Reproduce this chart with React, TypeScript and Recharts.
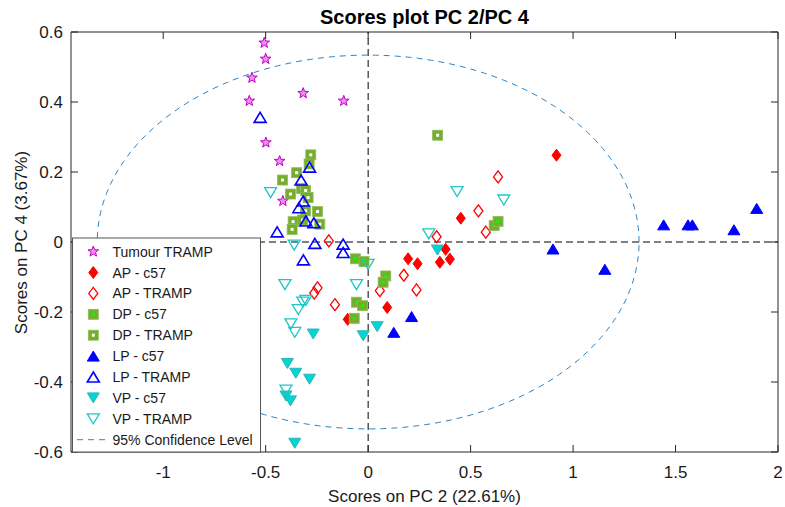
import { ScatterChart, Scatter, XAxis, YAxis, ReferenceLine } from 'recharts';

type Pt = [number, number];

// scores: [PC 2, PC 4]
const tumourTramp: Pt[] = [
  [-0.507, 0.569], [-0.5, 0.523], [-0.567, 0.469], [-0.58, 0.403], [-0.317, 0.425],
  [-0.119, 0.403], [-0.499, 0.284], [-0.432, 0.231], [-0.416, 0.117],
];
const apC57: Pt[] = [
  [0.919, 0.248], [0.452, 0.068], [0.378, -0.021], [0.35, -0.058], [0.399, -0.049],
  [0.195, -0.048], [0.241, -0.062], [0.093, -0.187], [-0.1, -0.221],
];
const apTramp: Pt[] = [
  [0.634, 0.186], [0.538, 0.089], [0.574, 0.028], [0.334, 0.015], [0.174, -0.095],
  [0.236, -0.137], [0.057, -0.139], [-0.162, -0.179], [-0.192, 0.003], [-0.247, -0.131],
  [-0.263, -0.146],
];
const dpC57: Pt[] = [
  [-0.062, -0.048], [-0.02, -0.056], [0.086, -0.097], [0.073, -0.115], [-0.057, -0.172],
  [-0.027, -0.182], [-0.068, -0.218], [0.615, 0.047], [0.634, 0.059],
];
const dpTramp: Pt[] = [
  [-0.28, 0.249], [-0.288, 0.223], [-0.349, 0.198], [-0.418, 0.177], [-0.325, 0.153],
  [-0.305, 0.147], [-0.379, 0.137], [-0.293, 0.127], [-0.305, 0.089], [-0.247, 0.087],
  [-0.366, 0.058], [-0.32, 0.063], [-0.236, 0.051], [-0.371, 0.036], [0.339, 0.305],
];
const lpC57: Pt[] = [
  [0.902, -0.02], [1.155, -0.078], [1.442, 0.049], [1.561, 0.049], [1.582, 0.049],
  [1.785, 0.035], [1.896, 0.096], [0.212, -0.213], [0.125, -0.258],
];
const lpTramp: Pt[] = [
  [-0.527, 0.356], [-0.286, 0.214], [-0.327, 0.177], [-0.317, 0.117], [-0.338, 0.098],
  [-0.304, 0.06], [-0.265, 0.055], [-0.444, 0.029], [-0.26, -0.004], [-0.316, -0.051],
  [-0.122, -0.006], [-0.122, -0.03],
];
const vpC57: Pt[] = [
  [0.338, -0.023], [0.044, -0.242], [-0.024, -0.268], [-0.268, -0.263], [-0.394, -0.347],
  [-0.353, -0.375], [-0.286, -0.392], [-0.401, -0.44], [-0.379, -0.454], [-0.358, -0.575],
];
const vpTramp: Pt[] = [
  [0.434, 0.144], [0.662, 0.12], [0.296, 0.023], [0.0, -0.064], [-0.057, -0.122],
  [-0.476, 0.141], [-0.361, -0.009], [-0.406, -0.122], [-0.304, -0.167], [-0.319, -0.172],
  [-0.341, -0.193], [-0.377, -0.234], [-0.358, -0.258], [-0.401, -0.423],
];

// 95% confidence ellipse (centred at the origin)
const ELLIPSE_RX = 1.322;
const ELLIPSE_RY = 0.534;

const X_TICKS = [-1, -0.5, 0, 0.5, 1, 1.5, 2];
const Y_TICKS = [-0.6, -0.4, -0.2, 0, 0.2, 0.4, 0.6];

const FONT = '"Liberation Sans", Arial, Helvetica, sans-serif';
const AXIS = '#262626';
const OLIVE = '#77ac30';

type Kind = 'star' | 'diamondF' | 'diamondO' | 'squareF' | 'squareO' | 'upF' | 'upO' | 'downF' | 'downO';

function Marker({ kind, cx, cy }: { kind: Kind; cx: number; cy: number }) {
  switch (kind) {
    case 'star': {
      const pts: string[] = [];
      for (let i = 0; i < 10; i++) {
        const r = i % 2 === 0 ? 5.6 : 2.3;
        const a = -Math.PI / 2 + (i * Math.PI) / 5;
        pts.push(`${cx + r * Math.cos(a)},${cy + r * Math.sin(a)}`);
      }
      return <polygon points={pts.join(' ')} fill="#f08ef0" stroke="#c000c0" strokeWidth={1} />;
    }
    case 'diamondF':
    case 'diamondO': {
      const p = `${cx},${cy - 6} ${cx + 4.5},${cy} ${cx},${cy + 6} ${cx - 4.5},${cy}`;
      return kind === 'diamondF'
        ? <polygon points={p} fill="#ff0000" stroke="#ff0000" strokeWidth={1} />
        : <polygon points={p} fill="none" stroke="#ff0000" strokeWidth={1.3} />;
    }
    case 'squareF':
    case 'squareO':
      return (
        <g>
          <rect x={cx - 5} y={cy - 5} width={10} height={10} fill={OLIVE} stroke="#8cbf55" strokeWidth={0.8} />
          <rect x={cx - 1.5} y={cy - 1.5} width={3} height={3} fill={kind === 'squareF' ? '#00ff00' : '#ffffff'} />
        </g>
      );
    case 'upF':
    case 'upO': {
      const p = `${cx},${cy - 5} ${cx + 6},${cy + 5} ${cx - 6},${cy + 5}`;
      return kind === 'upF'
        ? <polygon points={p} fill="#0000ff" stroke="#0000ff" strokeWidth={1} />
        : <polygon points={p} fill="none" stroke="#0000ff" strokeWidth={1.6} />;
    }
    default: {
      const p = `${cx - 6},${cy - 5} ${cx + 6},${cy - 5} ${cx},${cy + 5}`;
      return kind === 'downF'
        ? <polygon points={p} fill="#00d6d6" stroke="#2eb4b4" strokeWidth={1} />
        : <polygon points={p} fill="none" stroke="#1fc6c6" strokeWidth={1.3} />;
    }
  }
}

const groups: { name: string; kind: Kind; data: Pt[] }[] = [
  { name: 'Tumour TRAMP', kind: 'star', data: tumourTramp },
  { name: 'AP - c57', kind: 'diamondF', data: apC57 },
  { name: 'AP - TRAMP', kind: 'diamondO', data: apTramp },
  { name: 'DP - c57', kind: 'squareF', data: dpC57 },
  { name: 'DP - TRAMP', kind: 'squareO', data: dpTramp },
  { name: 'LP - c57', kind: 'upF', data: lpC57 },
  { name: 'LP - TRAMP', kind: 'upO', data: lpTramp },
  { name: 'VP - c57', kind: 'downF', data: vpC57 },
  { name: 'VP - TRAMP', kind: 'downO', data: vpTramp },
];

const ellipse = Array.from({ length: 241 }, (_, i) => {
  const t = (i / 240) * 2 * Math.PI;
  return { x: ELLIPSE_RX * Math.cos(t), y: ELLIPSE_RY * Math.sin(t) };
});

const blankTick = () => <g />;
const tickStyle = { fontSize: 17, fill: '#1a1a1a', fontFamily: FONT };

export default function App() {
  const legendTop = 238;
  const rowY = (i: number) => 251.6 + i * 20.9;
  return (
    <div style={{ position: 'absolute', left: 0, top: 0, width: 785, height: 507, background: '#fff', fontFamily: FONT }}>
      <ScatterChart width={785} height={507} margin={{ top: 22, right: 0, bottom: 25, left: 0 }}>
        <XAxis type="number" dataKey="x" domain={[-1.45, 2]} allowDataOverflow ticks={X_TICKS} height={30}
          tickSize={-7} tickMargin={21} tick={tickStyle} axisLine={{ stroke: AXIS }} tickLine={{ stroke: AXIS }} />
        <XAxis xAxisId="top" orientation="top" type="number" dataKey="x" domain={[-1.45, 2]} allowDataOverflow
          ticks={X_TICKS} height={10} tickSize={-7} tick={blankTick} axisLine={{ stroke: AXIS }} tickLine={{ stroke: AXIS }} />
        <YAxis type="number" dataKey="y" domain={[-0.6, 0.6]} allowDataOverflow ticks={Y_TICKS} width={71}
          tickSize={-7} tickMargin={15} tick={tickStyle} axisLine={{ stroke: AXIS }} tickLine={{ stroke: AXIS }} />
        <YAxis yAxisId="right" orientation="right" type="number" dataKey="y" domain={[-0.6, 0.6]} allowDataOverflow
          ticks={Y_TICKS} width={7} tickSize={-7} tick={blankTick} axisLine={{ stroke: AXIS }} tickLine={{ stroke: AXIS }} />
        <ReferenceLine x={0} stroke="#000" strokeDasharray="7 4" />
        <ReferenceLine y={0} stroke="#000" strokeDasharray="7 4" />
        {groups.map((g) => (
          <Scatter key={g.name} name={g.name} data={g.data.map(([x, y]) => ({ x, y }))} isAnimationActive={false}
            shape={(p: any) => <Marker kind={g.kind} cx={p.cx} cy={p.cy} />} />
        ))}
        <Scatter name="95% Confidence Level" data={ellipse} isAnimationActive={false} shape={() => <g />}
          line={{ stroke: '#2a84c6', strokeWidth: 1, strokeDasharray: '6 5' }} />
      </ScatterChart>

      <svg width={785} height={507} style={{ position: 'absolute', left: 0, top: 0, pointerEvents: 'none' }}>
        <text x={424.5} y={24.3} textAnchor="middle" fontSize={20} fontWeight="bold" fill="#000" fontFamily={FONT}>
          Scores plot PC 2/PC 4
        </text>
        <text x={424.5} y={501.5} textAnchor="middle" fontSize={17} fill="#1a1a1a" fontFamily={FONT}>
          Scores on PC 2 (22.61%)
        </text>
        <text x={27} y={242.5} textAnchor="middle" fontSize={17} fill="#1a1a1a" fontFamily={FONT}
          transform="rotate(-90 27 242.5)">
          Scores on PC 4 (3.67%)
        </text>

        <rect x={72.5} y={legendTop} width={188} height={214} fill="#fff" stroke="#555" strokeWidth={1} />
        {groups.map((g, i) => (
          <g key={g.name}>
            <Marker kind={g.kind} cx={93.3} cy={rowY(i)} />
            <text x={112.5} y={rowY(i) + 5} fontSize={14} fill="#1a1a1a" fontFamily={FONT}>{g.name}</text>
          </g>
        ))}
        <line x1={77} x2={107} y1={rowY(9)} y2={rowY(9)} stroke="#2a84c6" strokeDasharray="6 5" />
        <text x={112.5} y={rowY(9) + 5} fontSize={14} fill="#1a1a1a" fontFamily={FONT}>95% Confidence Level</text>
      </svg>
    </div>
  );
}
